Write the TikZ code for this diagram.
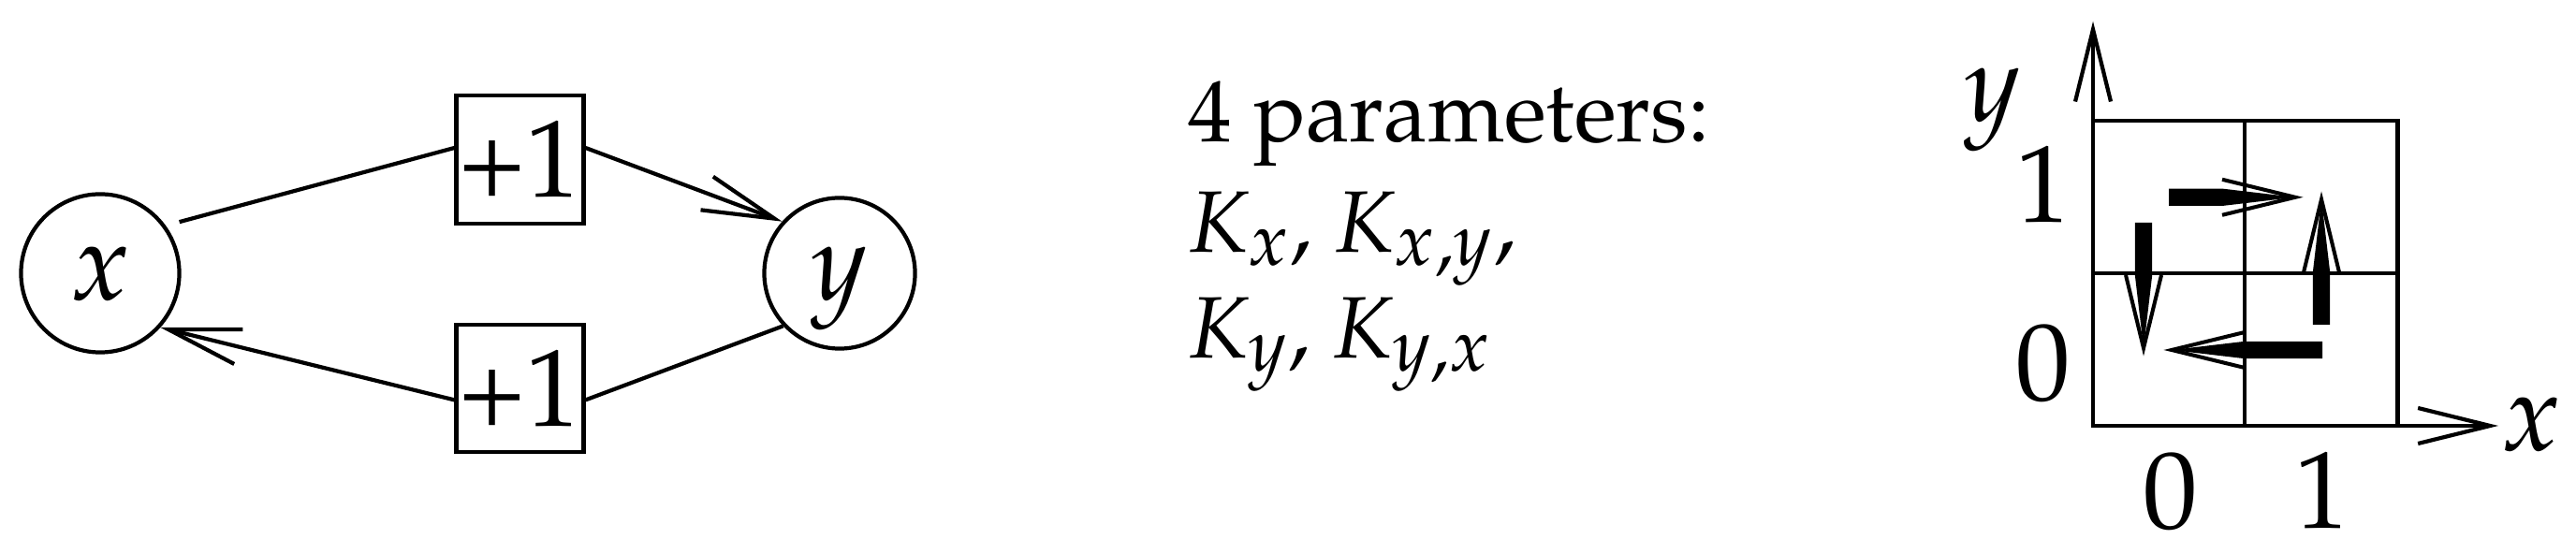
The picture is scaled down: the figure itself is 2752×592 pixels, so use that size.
\documentclass[tikz,border=0pt]{standalone}
\usepackage[T1]{fontenc}
\usepackage{mathpazo}
\usetikzlibrary{arrows.meta}
\DeclareMathSizes{26.5}{26.5}{22.5}{18}
\DeclareMathSizes{33.3}{33.3}{24}{18}
\newcommand{\bigsz}{\fontsize{33.3pt}{40pt}\selectfont}
\newcommand{\txtsz}{\fontsize{26.5pt}{33pt}\selectfont}
\begin{document}
\begin{tikzpicture}[x=0.01cm,y=-0.01cm,line width=1.2pt,
  lab/.style={font=\bigsz,inner sep=0pt,anchor=base},
  txt/.style={font=\txtsz,inner sep=0pt,anchor=base west},
  state/.style={draw,circle,inner sep=0pt,text depth=0pt,font=\bigsz,minimum size=1.69cm},
  incr/.style={draw,rectangle,minimum width=1.36cm,minimum height=1.365cm,inner sep=0pt,text depth=0pt,font=\bigsz},
  edge/.style={draw,line width=1.2pt},
  opentip/.style={-{Straight Barb[length=0.77cm,width=0.38cm]}},
  gridline/.style={draw,line width=1.2pt},
  barbline/.style={draw,line width=1.15pt},
  shaft/.style={fill=black}
]
\useasboundingbox (0,0) rectangle (2752,592);

% ---- left graph ----
\node[state] (x) at (107,292) {$x$};
\node[state,minimum size=1.61cm] (y) at (897,292) {$y$};
\node[incr] (b1) at (555.5,170.4) {+1};
\node[incr] (b2) at (555.5,415) {+1};
\draw[edge,shorten <=0.15cm] (x.36.5) -- (b1.170);
\draw[edge,opentip] (b1.10) -- (y.138);
\draw[edge] (y.223) -- (b2.350);
\draw[edge,opentip] (b2.190) -- (x.-42);

% ---- text ----
\node[txt] (t1) at (1267,151.7) {4 parameters:};
\node[txt] (t2) at (1267,269.3) {$K_x$, $K_{x,y}$,};
\node[txt] (t3) at (1267,382.7) {$K_y$, $K_{y,x}$};

% ---- right plot ----
\coordinate (O) at (2236,455);
\coordinate (ytip) at (2236,22.7);
\coordinate (xtip) at (2669,455);
\draw[gridline] (2236,129) rectangle (2561.5,455);
\draw[gridline] (2398,129) -- (2398,455);
\draw[gridline] (2236,292) -- (2561.5,292);
\draw[edge,opentip] (O) -- (ytip);
\draw[edge,opentip] (O) -- (xtip);

\node[lab] (ylab) at (2129,130) {$y$};
\node[lab] (xlab) at (2704,482) {$x$};
\node[lab] (y1) at (2183,238) {1};
\node[lab] (y0) at (2183,428) {0};
\node[lab] (x0) at (2318.5,565) {0};
\node[lab] (x1) at (2481,565) {1};

% thick arrows
\fill[shaft] (2317,201.6) -- (2374,201.6) -- (2452,210.8) -- (2374,220) -- (2317,220) -- cycle;
\draw[barbline] (2374,191.8) -- (2452,210.8) -- (2374,229.8);

\fill[shaft] (2470.8,347) -- (2470.8,291) -- (2480,213) -- (2489.2,291) -- (2489.2,347) -- cycle;
\draw[barbline] (2461,291) -- (2480,213) -- (2499,291);

\fill[shaft] (2481,364.8) -- (2398,364.8) -- (2320,374) -- (2398,383.2) -- (2481,383.2) -- cycle;
\draw[barbline] (2398,355) -- (2320,374) -- (2398,393);

\fill[shaft] (2280.8,238) -- (2280.8,294) -- (2290,372) -- (2299.2,294) -- (2299.2,238) -- cycle;
\draw[barbline] (2271,294) -- (2290,372) -- (2309,294);
\end{tikzpicture}
\end{document}
